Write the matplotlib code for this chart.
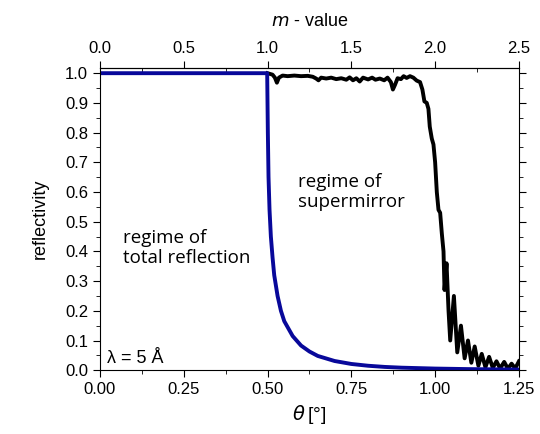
import matplotlib
matplotlib.use('Agg')
import matplotlib.pyplot as plt
from matplotlib.ticker import MultipleLocator

plt.rcParams['font.family'] = ['Liberation Sans', 'DejaVu Sans']

# total reflection (nickel mirror)
theta_ni = [0.0, 0.499, 0.501, 0.503, 0.506, 0.51, 0.515, 0.52, 0.53, 0.54, 0.55,
            0.575, 0.6, 0.625, 0.65, 0.7, 0.75, 0.8, 0.85, 0.9, 1.0, 1.1, 1.25]
refl_ni = [1.0, 1.0, 0.80, 0.65, 0.54, 0.45, 0.38, 0.32, 0.25, 0.20, 0.165,
           0.115, 0.083, 0.063, 0.048, 0.031, 0.021, 0.015, 0.011, 0.0085, 0.0055, 0.0037, 0.0022]

# supermirror m = 2
theta_sm = [0.500, 0.515, 0.522, 0.528, 0.534, 0.545, 0.560, 0.580, 0.600, 0.620,
            0.635, 0.645, 0.652, 0.660, 0.675, 0.690, 0.705, 0.720, 0.735, 0.745,
            0.755, 0.765, 0.775, 0.785, 0.800, 0.812, 0.822, 0.835, 0.848, 0.858,
            0.868, 0.874, 0.880, 0.888, 0.898, 0.906, 0.915, 0.925, 0.935, 0.945,
            0.955, 0.962, 0.968, 0.975, 0.980, 0.984, 0.990, 0.995, 1.000, 1.005,
            1.010, 1.015, 1.020, 1.025, 1.028, 1.034, 1.040, 1.045, 1.056, 1.066,
            1.077, 1.088, 1.098, 1.108, 1.118, 1.129, 1.139, 1.150, 1.161, 1.172,
            1.183, 1.194, 1.206, 1.217, 1.228, 1.239, 1.250]
refl_sm = [1.000, 0.995, 0.985, 0.968, 0.985, 0.992, 0.990, 0.992, 0.990, 0.991,
           0.988, 0.982, 0.976, 0.985, 0.982, 0.985, 0.980, 0.983, 0.978, 0.986,
           0.976, 0.983, 0.972, 0.985, 0.979, 0.985, 0.978, 0.982, 0.976, 0.985,
           0.970, 0.945, 0.960, 0.983, 0.980, 0.990, 0.984, 0.990, 0.985, 0.975,
           0.970, 0.945, 0.905, 0.900, 0.880, 0.820, 0.780, 0.760, 0.700, 0.600,
           0.540, 0.530, 0.460, 0.400, 0.270, 0.360, 0.200, 0.100, 0.250, 0.060,
           0.150, 0.040, 0.100, 0.025, 0.080, 0.015, 0.055, 0.010, 0.045, 0.008,
           0.030, 0.006, 0.028, 0.005, 0.022, 0.006, 0.030]

x_ticks = [0.0, 0.25, 0.5, 0.75, 1.0, 1.25]
m_ticks = [0.0, 0.5, 1.0, 1.5, 2.0, 2.5]

fig = plt.figure(figsize=(5.4, 4.34), dpi=100)
ax = fig.add_axes([0.185, 0.147, 0.776, 0.696])

ax.plot(theta_sm, refl_sm, color='black', lw=2.8, solid_joinstyle='round')
ax.plot(theta_ni, refl_ni, color='#08089a', lw=2.8)

ax.set_xlim(0, 1.25)
ax.set_ylim(0, 1.017)
ax.set_xticks(x_ticks)
ax.xaxis.set_minor_locator(MultipleLocator(0.125))
ax.yaxis.set_major_locator(MultipleLocator(0.1))
ax.yaxis.set_minor_locator(MultipleLocator(0.05))
ax.xaxis.set_major_formatter(plt.FormatStrFormatter('%.2f'))
ax.yaxis.set_major_formatter(plt.FormatStrFormatter('%.1f'))
ax.tick_params(which='both', direction='out', labelsize=12, right=True, top=False)
ax.tick_params(which='major', length=5)
ax.tick_params(which='minor', length=3)

top = ax.secondary_xaxis('top', functions=(lambda t: 2 * t, lambda m: m / 2))
top.set_xticks(m_ticks)
top.xaxis.set_minor_locator(MultipleLocator(0.25))
top.xaxis.set_major_formatter(plt.FormatStrFormatter('%.1f'))
top.tick_params(which='major', direction='out', length=5, labelsize=12)
top.tick_params(which='minor', direction='in', length=3)
top.set_xlabel(r'$m$ - value', fontsize=13, labelpad=11)

ax.set_xlabel(r'$\theta\,$[°]', fontsize=14, labelpad=4)
ax.set_ylabel('reflectivity', fontsize=13, labelpad=12)

ax.text(0.59, 0.60, 'regime of\nsupermirror', fontsize=13.5, family='Open Sans',
        linespacing=1.15, va='center', ha='left')
ax.text(0.069, 0.41, 'regime of\ntotal reflection', fontsize=13.5, family='Open Sans',
        linespacing=1.15, va='center', ha='left')
ax.text(0.02, 0.012, 'λ = 5 Å', fontsize=13, va='bottom', ha='left')

fig.savefig('out.png', dpi=100)
